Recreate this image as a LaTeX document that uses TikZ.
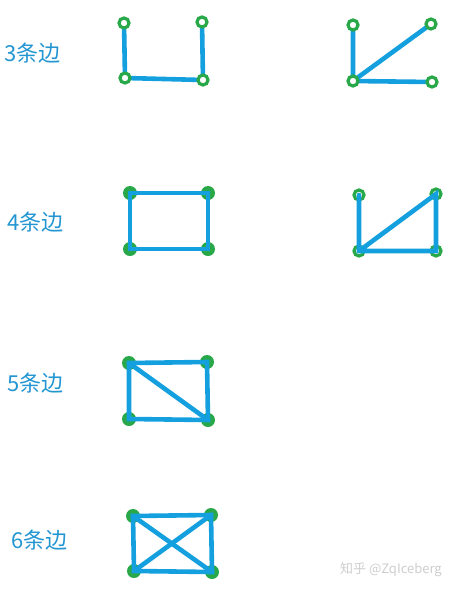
\documentclass[tikz,border=0pt]{standalone}
\usepackage{fontspec}
\newfontfamily\cjk{Noto Sans CJK SC}
\definecolor{edgeblue}{RGB}{20,160,222}
\definecolor{nodegreen}{RGB}{40,168,72}
\definecolor{labelblue}{RGB}{35,150,210}
\definecolor{wmgray}{RGB}{205,205,205}
\begin{document}
\begin{tikzpicture}[x=1pt,y=-1pt,
  vtx/.style={circle,draw=nodegreen,line width=3.2pt,fill=white,minimum size=10pt,inner sep=0pt},
  vtxf/.style={circle,fill=nodegreen,minimum size=14pt,inner sep=0pt},
  edge/.style={draw=edgeblue,line width=4.6pt,line cap=round},
  lbl/.style={text=labelblue,font=\cjk\fontsize{22}{24}\selectfont,anchor=west,inner sep=0pt}]
\useasboundingbox (0,0) rectangle (460,590);
% labels
\node[lbl] (l3) at (4,53) {3条边};
\node[lbl] (l4) at (7,222) {4条边};
\node[lbl] (l5) at (7,383) {5条边};
\node[lbl] (l6) at (11,540) {6条边};
\node[text=wmgray,font=\cjk\fontsize{13}{15}\selectfont,anchor=west,inner sep=0pt] (wm) at (340,570) {知乎 @ZqIceberg};
% coordinates
\coordinate (a1) at (124,23); \coordinate (a2) at (202,22); \coordinate (a3) at (125,78); \coordinate (a4) at (203,80);
\coordinate (b1) at (353,25); \coordinate (b2) at (431,24); \coordinate (b3) at (353,81); \coordinate (b4) at (432,82);
\coordinate (c1) at (130,193); \coordinate (c2) at (208,193); \coordinate (c3) at (130,249); \coordinate (c4) at (208,249);
\coordinate (d1) at (359,195); \coordinate (d2) at (436,194); \coordinate (d3) at (359,251); \coordinate (d4) at (436,251);
\coordinate (e1) at (129,363); \coordinate (e2) at (207,362); \coordinate (e3) at (129,419); \coordinate (e4) at (208,420);
\coordinate (f1) at (133,516); \coordinate (f2) at (211,515); \coordinate (f3) at (134,571); \coordinate (f4) at (212,572);
% row 1 : edges under rings
\draw[edge] (a1) -- (a3) -- (a4) -- (a2);
\draw[edge] (b1) -- (b3) -- (b4); \draw[edge] (b3) -- (b2);
\foreach \n in {a1,a2,a3,a4,b1,b2,b3,b4} \node[vtx] (n\n) at (\n) {};
% rows 2-4 : filled vertices under edges
\foreach \n in {c1,c2,c3,c4,e1,e2,e3,e4,f1,f2,f3,f4} \node[vtxf] (n\n) at (\n) {};
\foreach \n in {d1,d2,d3,d4} \node[vtx] (n\n) at (\n) {};
\draw[edge] (c1) -- (c2) -- (c4) -- (c3) -- cycle;
\draw[edge] (d1) -- (d3) -- (d4) -- (d2) -- (d3);
\draw[edge] (e1) -- (e2) -- (e4) -- (e3) -- cycle; \draw[edge] (e1) -- (e4);
\draw[edge] (f1) -- (f2) -- (f4) -- (f3) -- cycle; \draw[edge] (f1) -- (f4); \draw[edge] (f2) -- (f3);
\end{tikzpicture}
\end{document}
